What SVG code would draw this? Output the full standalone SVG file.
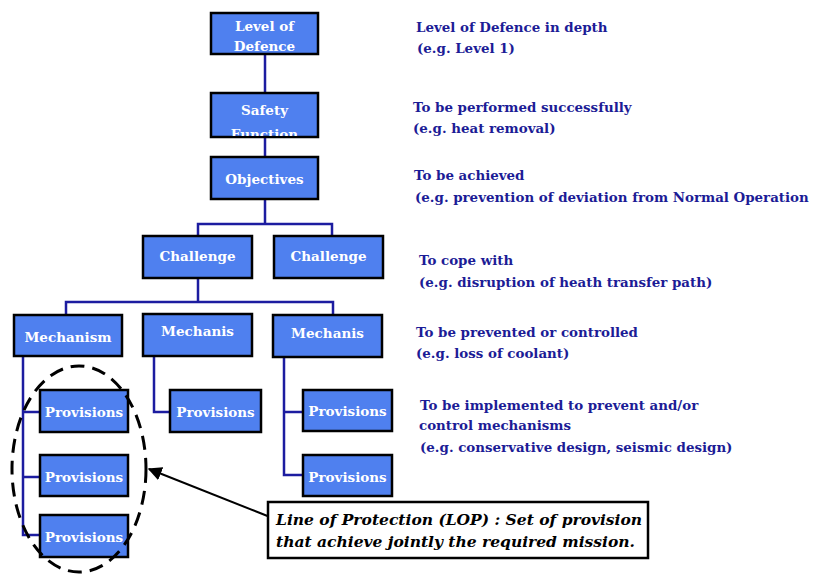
<svg xmlns="http://www.w3.org/2000/svg" width="814" height="574" viewBox="0 0 814 574">
  <style>
    .box { fill: #4f80ef; stroke: #000; stroke-width: 2.5; }
    .lbl { font-family: "DejaVu Serif", serif; font-weight: bold; font-size: 13.5px; fill: #ffffff; text-anchor: middle; }
    .note { font-family: "DejaVu Serif", serif; font-weight: bold; font-size: 13.4px; fill: #1c1c96; }
    .wire { fill: none; stroke: #1c1ca0; stroke-width: 2.5; }
    .lop { font-family: "DejaVu Serif", serif; font-weight: bold; font-style: italic; font-size: 15.5px; fill: #000; }
  </style>
  <defs>
    <clipPath id="clipSafety"><rect x="212" y="94" width="105" height="42"/></clipPath>
    <marker id="arrow" viewBox="0 0 10 10" refX="9" refY="5" markerWidth="7" markerHeight="7" orient="auto">
      <path d="M0,0 L10,5 L0,10 z" fill="#000"/>
    </marker>
  </defs>
  <rect width="814" height="574" fill="#ffffff"/>

  <!-- tree connectors -->
  <g id="connectors">
    <path class="wire" d="M265,54 V93 M265,137 V157 M265,199 V224"/>
    <path class="wire" d="M198,236 V224 H332 V236"/>
    <path class="wire" d="M198,278 V302 M66,315 V302 H333 V314"/>
    <path class="wire" d="M23,356 V535 H40 M23,412 H40 M23,477 H40"/>
    <path class="wire" d="M154,356 V412 H170"/>
    <path class="wire" d="M284,357 V475 H303 M284,412 H303"/>
  </g>

  <g id="n-level">
    <rect class="box" x="211" y="13" width="107" height="41"/>
    <text class="lbl" x="264.5" y="31">Level of</text>
    <text class="lbl" x="264.5" y="51">Defence</text>
  </g>
  <g id="n-safety">
    <rect class="box" x="211" y="93" width="107" height="44"/>
    <g clip-path="url(#clipSafety)">
      <text class="lbl" x="264.5" y="115">Safety</text>
      <text class="lbl" x="264.5" y="139">Function</text>
    </g>
  </g>
  <g id="n-objectives">
    <rect class="box" x="211" y="157" width="107" height="42"/>
    <text class="lbl" x="264.5" y="184">Objectives</text>
  </g>
  <g id="n-challenge1">
    <rect class="box" x="143" y="236" width="109" height="42"/>
    <text class="lbl" x="197.5" y="261">Challenge</text>
  </g>
  <g id="n-challenge2">
    <rect class="box" x="274" y="236" width="109" height="42"/>
    <text class="lbl" x="328.5" y="261">Challenge</text>
  </g>
  <g id="n-mech1">
    <rect class="box" x="14" y="315" width="108" height="41"/>
    <text class="lbl" x="68" y="342">Mechanism</text>
  </g>
  <g id="n-mech2">
    <rect class="box" x="143" y="314" width="109" height="42"/>
    <text class="lbl" x="197.5" y="336">Mechanis</text>
  </g>
  <g id="n-mech3">
    <rect class="box" x="273" y="315" width="109" height="42"/>
    <text class="lbl" x="327.5" y="338">Mechanis</text>
  </g>
  <g id="n-prov1a">
    <rect class="box" x="40" y="390" width="88" height="42"/>
    <text class="lbl" x="84" y="417">Provisions</text>
  </g>
  <g id="n-prov1b">
    <rect class="box" x="40" y="455" width="88" height="41"/>
    <text class="lbl" x="84" y="482">Provisions</text>
  </g>
  <g id="n-prov1c">
    <rect class="box" x="40" y="515" width="88" height="42"/>
    <text class="lbl" x="84" y="542">Provisions</text>
  </g>
  <g id="n-prov2">
    <rect class="box" x="170" y="390" width="91" height="42"/>
    <text class="lbl" x="215.5" y="417">Provisions</text>
  </g>
  <g id="n-prov3a">
    <rect class="box" x="303" y="390" width="89" height="41"/>
    <text class="lbl" x="347.5" y="416">Provisions</text>
  </g>
  <g id="n-prov3b">
    <rect class="box" x="303" y="455" width="89" height="41"/>
    <text class="lbl" x="347.5" y="482">Provisions</text>
  </g>

  <!-- level descriptions -->
  <g id="notes">
    <text class="note" x="416" y="32">Level of Defence in depth</text>
    <text class="note" x="417" y="53">(e.g. Level 1)</text>
    <text class="note" x="413" y="112">To be performed successfully</text>
    <text class="note" x="413" y="133">(e.g. heat removal)</text>
    <text class="note" x="414" y="180">To be achieved</text>
    <text class="note" x="415" y="202">(e.g. prevention of deviation from Normal Operation</text>
    <text class="note" x="419" y="265">To cope with</text>
    <text class="note" x="419" y="287">(e.g. disruption of heath transfer path)</text>
    <text class="note" x="416" y="337">To be prevented or controlled</text>
    <text class="note" x="416" y="358">(e.g. loss of coolant)</text>
    <text class="note" x="420" y="410">To be implemented to prevent and/or</text>
    <text class="note" x="419" y="430">control mechanisms</text>
    <text class="note" x="420" y="452">(e.g. conservative design, seismic design)</text>
  </g>

  <!-- line of protection grouping -->
  <g id="lop">
    <ellipse cx="79" cy="469" rx="67" ry="103" fill="none" stroke="#000" stroke-width="3" stroke-dasharray="14 8"/>
    <line x1="270" y1="517" x2="149" y2="469" stroke="#000" stroke-width="2" marker-end="url(#arrow)"/>
    <rect x="268" y="502" width="380" height="56" fill="#ffffff" stroke="#000" stroke-width="2.5"/>
    <text class="lop" x="276" y="525">Line of Protection (LOP) : Set of provision</text>
    <text class="lop" x="276" y="547">that achieve jointly the required mission.</text>
  </g>
</svg>
